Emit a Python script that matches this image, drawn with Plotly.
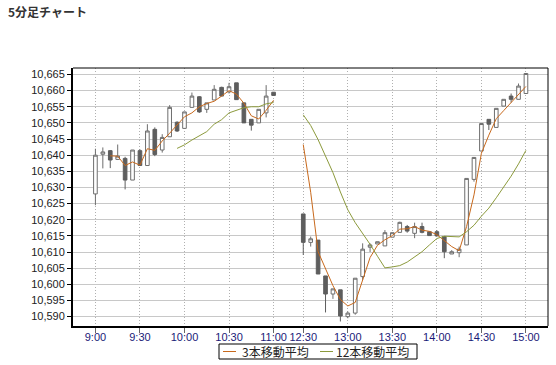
import plotly.graph_objects as go

# ---- data (5-minute candles) ----
am_times = ["9:00","9:05","9:10","9:15","9:20","9:25","9:30","9:35","9:40","9:45","9:50","9:55",
            "10:00","10:05","10:10","10:15","10:20","10:25","10:30","10:35","10:40","10:45","10:50","10:55","11:00"]
pm_times = ["12:30","12:35","12:40","12:45","12:50","12:55","13:00","13:05","13:10","13:15","13:20","13:25",
            "13:30","13:35","13:40","13:45","13:50","13:55","14:00","14:05","14:10","14:15","14:20","14:25",
            "14:30","14:35","14:40","14:45","14:50","14:55","15:00"]

am_open  = [10628.0,10640.3,10641.4,10638.7,10639.0,10632.3,10641.4,10636.8,10648.0,10641.6,10645.7,10650.2,
            10648.3,10654.8,10658.1,10654.2,10657.1,10661.0,10659.6,10662.4,10656.2,10651.1,10650.0,10653.1,10659.5]
am_high  = [10642.0,10642.4,10641.6,10643.3,10639.5,10641.6,10641.8,10649.6,10648.6,10646.5,10655.5,10650.5,
            10653.4,10659.4,10658.3,10656.2,10661.7,10661.2,10662.4,10662.4,10656.2,10651.1,10654.2,10661.7,10659.5]
am_low   = [10624.5,10635.9,10636.0,10638.5,10629.4,10632.3,10636.8,10636.8,10639.7,10640.8,10645.7,10647.2,
            10648.3,10654.8,10653.1,10653.1,10657.1,10658.3,10659.1,10657.2,10650.0,10647.6,10650.0,10651.7,10658.5]
am_close = [10640.0,10641.0,10638.5,10639.7,10632.3,10641.6,10636.8,10647.5,10640.2,10645.5,10654.8,10647.5,
            10653.4,10658.3,10653.4,10656.2,10660.4,10658.3,10661.2,10657.2,10650.0,10649.3,10654.2,10658.3,10658.5]

pm_open  = [10621.8,10613.0,10613.7,10602.6,10597.0,10598.3,10590.0,10591.1,10602.4,10611.5,10612.5,10611.9,
            10614.6,10616.1,10617.9,10615.8,10617.9,10616.3,10616.3,10614.8,10609.4,10609.8,10612.2,10632.5,
            10641.3,10651.1,10648.6,10655.2,10658.3,10657.3,10659.1]
pm_high  = [10621.8,10614.8,10613.7,10602.6,10598.6,10598.3,10591.6,10601.9,10612.7,10612.7,10613.2,10616.8,
            10616.0,10619.4,10618.4,10619.1,10619.1,10616.3,10616.8,10614.8,10610.6,10611.7,10632.8,10639.3,
            10649.8,10651.1,10654.5,10657.3,10659.1,10662.2,10665.3]
pm_low   = [10609.1,10611.7,10603.2,10591.3,10595.5,10588.5,10589.5,10590.6,10601.4,10610.0,10612.5,10611.9,
            10614.6,10616.1,10616.0,10614.3,10615.8,10615.1,10615.0,10608.1,10609.4,10608.4,10612.2,10631.8,
            10641.3,10647.8,10648.6,10655.2,10656.3,10657.3,10659.1]
pm_close = [10613.0,10614.1,10603.2,10597.0,10598.6,10590.2,10591.1,10601.9,10610.9,10612.2,10613.2,10616.0,
            10616.0,10619.2,10616.5,10617.9,10616.1,10615.1,10615.0,10610.1,10610.1,10610.9,10632.8,10639.3,
            10649.8,10649.6,10654.5,10657.3,10657.3,10661.4,10665.3]

# moving averages, starting at the 3rd / 12th morning candle
ma3_am  = [10639.8,10639.7,10636.8,10637.9,10636.9,10642.0,10641.5,10644.4,10646.8,10649.3,10651.9,
           10653.1,10655.0,10656.0,10656.7,10658.3,10660.0,10658.9,10656.1,10652.2,10651.2,10653.9,10657.0]
ma3_pm  = [10643.3,10628.5,10610.1,10604.8,10599.6,10595.3,10593.3,10594.4,10601.3,10608.3,10612.1,10613.8,
           10615.1,10617.1,10617.2,10617.9,10616.8,10616.4,10615.4,10613.4,10611.7,10610.4,10617.9,10627.7,
           10640.6,10646.2,10651.3,10653.8,10656.4,10658.7,10661.3]
ma12_am = [10642.1,10643.2,10644.7,10645.9,10647.3,10649.6,10651.0,10653.1,10653.9,10654.7,10655.0,10655.0,
           10655.9,10656.3]
ma12_pm = [10652.5,10649.2,10644.8,10639.5,10634.6,10628.6,10623.1,10619.1,10615.9,10612.4,10608.7,10605.1,
           10605.4,10605.8,10606.9,10608.6,10610.1,10612.2,10614.2,10614.9,10614.8,10614.7,10616.3,10618.3,
           10621.1,10623.6,10626.8,10630.1,10633.5,10637.3,10641.5]

tick_labels = ["9:00","9:30","10:00","10:30","11:00","12:30","13:00","13:30","14:00","14:30","15:00"]
series_names = ["3本移動平均", "12本移動平均"]
series_colors = ["#c8691c", "#8c9a3c"]
session_gap = 3  # empty slots between 11:00 and 12:30

# ---- build positions ----
am_x = list(range(len(am_times)))
pm_x = [len(am_times) + session_gap + k for k in range(len(pm_times))]
all_times = am_times + pm_times
all_x = am_x + pm_x
tick_vals = [all_x[all_times.index(t)] for t in tick_labels]

ma3_x = am_x[2:] + [None] + pm_x
ma3_y = ma3_am + [None] + ma3_pm
ma12_x = am_x[11:] + [None] + pm_x
ma12_y = ma12_am + [None] + ma12_pm

W, H = 556, 365
ML, MR, MT, MB = 73, 8, 68, 39
PW, PH = W - ML - MR, H - MT - MB

def px(xp):
    return (xp - ML) / PW

def py(yp):
    return (H - MB - yp) / PH

fig = go.Figure()
fig.add_trace(go.Candlestick(
    x=all_x,
    open=am_open + pm_open, high=am_high + pm_high,
    low=am_low + pm_low, close=am_close + pm_close,
    increasing=dict(line=dict(color="#6e6e6e", width=1), fillcolor="#ffffff"),
    decreasing=dict(line=dict(color="#5e5e5e", width=1), fillcolor="#5e5e5e"),
    whiskerwidth=0, showlegend=False, hoverinfo="skip"))
fig.add_trace(go.Scatter(x=ma3_x, y=ma3_y, mode="lines", name=series_names[0], showlegend=False,
                         line=dict(color=series_colors[0], width=1), connectgaps=False))
fig.add_trace(go.Scatter(x=ma12_x, y=ma12_y, mode="lines", name=series_names[1], showlegend=False,
                         line=dict(color=series_colors[1], width=1), connectgaps=False))

# legend box drawn below the plot
leg_y = 351.5
shapes = [
    dict(type="line", xref="paper", yref="paper", x0=0, x1=1, y0=1, y1=1,
         line=dict(color="#000000", width=1)),
    dict(type="line", xref="paper", yref="paper", x0=1, x1=1, y0=0, y1=1,
         line=dict(color="#000000", width=1)),
    dict(type="rect", xref="paper", yref="paper", x0=px(219), x1=px(417), y0=py(344), y1=py(359),
         line=dict(color="#000000", width=1), fillcolor="white"),
]
annotations = []
for name, color, lx0, tx in zip(series_names, series_colors, [223, 320], [240, 334]):
    shapes.append(dict(type="line", xref="paper", yref="paper", x0=px(lx0), x1=px(lx0 + 13),
                       y0=py(leg_y), y1=py(leg_y), line=dict(color=color, width=1)))
    annotations.append(dict(text=name, xref="paper", yref="paper", x=px(tx), y=py(leg_y),
                            xanchor="left", yanchor="middle", showarrow=False,
                            font=dict(family="Noto Sans CJK JP", size=12, color="#222222")))

fig.update_layout(
    width=W, height=H,
    margin=dict(l=ML, r=MR, t=MT, b=MB),
    paper_bgcolor="white", plot_bgcolor="white",
    boxgap=0.3,
    title=dict(text="<b>5分足チャート</b>", x=8/W, xanchor="left", xref="container",
               y=1 - 13/H, yanchor="middle", yref="container",
               font=dict(family="Noto Sans CJK JP", size=12, color="#333333")),
    font=dict(family="Liberation Sans, Arial", size=11, color="#222222"),
    showlegend=False,
    xaxis=dict(range=[-3.02, 60.97], tickmode="array", tickvals=tick_vals, ticktext=tick_labels,
               rangeslider=dict(visible=False),
               showgrid=True, gridcolor="#b0b0b0", gridwidth=1, griddash="1px,2px",
               showline=True, linecolor="#000000", linewidth=2,
               ticks="outside", ticklen=5, tickcolor="#666666",
               tickfont=dict(family="Liberation Sans, Arial", size=11, color="#1a1a78"),
               zeroline=False, fixedrange=True),
    yaxis=dict(range=[10587.1, 10667.0], tickmode="linear", tick0=10590, dtick=5, tickformat=",d",
               showgrid=True, gridcolor="#c8c8c8", gridwidth=1,
               showline=True, linecolor="#000000", linewidth=2,
               ticks="outside", ticklen=4, tickcolor="#000000",
               tickfont=dict(family="Liberation Sans, Arial", size=11, color="#222222"),
               zeroline=False, fixedrange=True),
    shapes=shapes,
    annotations=annotations,
)

# pull the time labels up close to the tick marks
try:
    fig.update_xaxes(ticklabelstandoff=-5)
except Exception:
    fig.update_xaxes(ticklen=2)

fig.write_html("out.html")
